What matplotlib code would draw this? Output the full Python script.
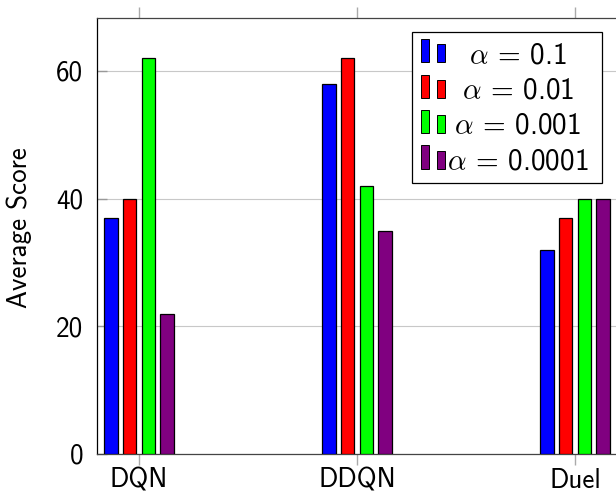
import numpy as np
import matplotlib
matplotlib.use("Agg")
import matplotlib.pyplot as plt
from matplotlib.patches import Rectangle

plt.rcParams["font.family"] = ["cmss10", "DejaVu Sans"]
plt.rcParams["mathtext.fontset"] = "cm"
plt.rcParams["axes.unicode_minus"] = False

methods = ["DQN", "DDQN", "Duel"]
alpha_labels = [r"$\alpha$ = 0.1", r"$\alpha$ = 0.01",
                r"$\alpha$ = 0.001", r"$\alpha$ = 0.0001"]
colors = ["#0000ff", "#ff0000", "#00ff00", "#800080"]
scores = [
    [37, 58, 32],   # alpha = 0.1
    [40, 62, 37],   # alpha = 0.01
    [62, 42, 40],   # alpha = 0.001
    [22, 35, 40],   # alpha = 0.0001
]
yticks = [0, 20, 40, 60]

W, H = 616, 500
fig = plt.figure(figsize=(W / 100, H / 100), dpi=100)
ax = fig.add_axes([97 / W, 1 - 454 / H, 520 / W, 436 / H])

x = np.arange(len(methods))
step = 0.0857
width = 0.061
for i, (vals, c) in enumerate(zip(scores, colors)):
    off = (i - 1.5) * step
    ax.bar(x + off, vals, width=width, color=c, edgecolor="black",
           linewidth=0.9, zorder=3)

ax.set_xlim(-0.193, 2.193)
ax.set_ylim(0, 68.3)
ax.set_xticks(x)
ax.set_xticklabels(methods)
ax.set_yticks(yticks)
ax.grid(axis="y", color="#c8c8c8", linewidth=0.8, zorder=0)
ax.set_axisbelow(True)

ax.tick_params(axis="x", direction="out", length=8, width=1.0, color="#aaaaaa",
               top=True, bottom=True, labelsize=19.5, pad=2)
ax.tick_params(axis="y", direction="in", length=7, width=1.0, color="#999999",
               left=True, right=False, labelsize=19.5, pad=10)

for side in ["left", "top", "bottom"]:
    ax.spines[side].set_linewidth(0.9)
ax.spines["left"].set_color("black")
ax.spines["top"].set_color("#444444")
ax.spines["bottom"].set_color("#444444")
ax.spines["right"].set_visible(False)

ax.set_ylabel("Average Score", fontsize=19.5)
ax.yaxis.set_label_coords(-0.125, 0.52)

# legend drawn in pixel coordinates of the figure (pgfplots-like, centered text)
def px(xp, yp):
    return xp / W, 1 - yp / H

lx0, ly0, lx1, ly1 = 412, 32, 602, 183
fig.patches.append(Rectangle(px(lx0, ly1), (lx1 - lx0) / W, (ly1 - ly0) / H,
                             transform=fig.transFigure, facecolor="white",
                             edgecolor="black", linewidth=0.9, zorder=10))
row_h = 35.5
for i, (lab, c) in enumerate(zip(alpha_labels, colors)):
    base = 62 + i * row_h
    fig.patches.append(Rectangle(px(421, base), 8 / W, 23 / H,
                                 transform=fig.transFigure, facecolor=c,
                                 edgecolor="black", linewidth=0.7, zorder=11))
    fig.patches.append(Rectangle(px(437, base), 8 / W, 18 / H,
                                 transform=fig.transFigure, facecolor=c,
                                 edgecolor="black", linewidth=0.7, zorder=11))
    fig.text(*px(518, base + 1), lab, ha="center", va="baseline",
             fontsize=21, zorder=12)

fig.savefig("out.png", dpi=100)
